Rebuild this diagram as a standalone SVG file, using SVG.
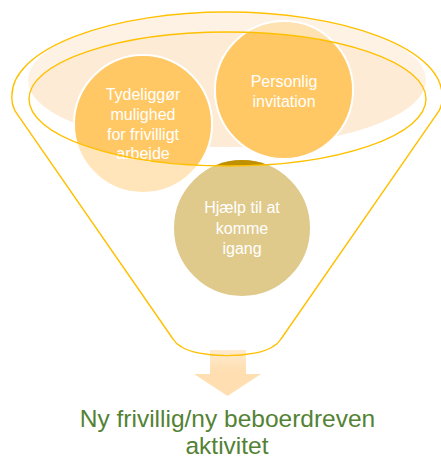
<svg xmlns="http://www.w3.org/2000/svg" width="441" height="459" viewBox="0 0 441 459">
<defs>
<style>
.line{fill:none;stroke:#FFC000;stroke-width:1.4}
.ct{font-family:"Liberation Sans",Arial,sans-serif;font-size:16px;fill:#FFFFFF;text-anchor:middle}
.gt{font-family:"Liberation Sans",Arial,sans-serif;font-size:24.5px;fill:#548235;text-anchor:middle}
.ring{stroke:#FFFFFF;stroke-width:2}
</style>
<clipPath id="innerClip"><ellipse cx="227.5" cy="99" rx="198.5" ry="67"/></clipPath>
<linearGradient id="arrowGrad" x1="0" y1="350" x2="0" y2="370" gradientUnits="userSpaceOnUse">
<stop offset="0" stop-color="#FFEBD0"/>
<stop offset="1" stop-color="#FFDFB2"/>
</linearGradient>
</defs>
<rect width="441" height="459" fill="#FFFFFF"/>
<g id="funnel-fill">
<ellipse cx="227" cy="80" rx="199" ry="67" fill="#FEF2E5"/>
<ellipse cx="227" cy="80" rx="199" ry="67" fill="#FDEBD5" clip-path="url(#innerClip)"/>
</g>
<g id="node-tydeliggor">
<circle cx="143" cy="124" r="69" fill="#FFE5B9" class="ring"/>
<circle cx="143" cy="124" r="68" fill="#FFC864" clip-path="url(#innerClip)"/>
<text class="ct" x="143" y="100">Tydeliggør</text>
<text class="ct" x="143" y="120">mulighed</text>
<text class="ct" x="143" y="140">for frivilligt</text>
<text class="ct" x="143" y="159">arbejde</text>
</g>
<g id="node-personlig">
<circle cx="284" cy="90" r="69" fill="#FFE2B2" class="ring"/>
<circle cx="284" cy="90" r="68" fill="#FFC864" clip-path="url(#innerClip)"/>
<text class="ct" x="284" y="87">Personlig</text>
<text class="ct" x="284" y="107">invitation</text>
</g>
<g id="node-hjaelp">
<circle cx="242" cy="228" r="69" fill="#DFCA8C" class="ring"/>
<circle cx="242" cy="228" r="68" fill="#BF9000" clip-path="url(#innerClip)"/>
<text class="ct" x="242" y="213">Hjælp til at</text>
<text class="ct" x="242" y="234">komme</text>
<text class="ct" x="242" y="254">igang</text>
</g>
<g id="connectors">
<path d="M210,350 H246 V374 H261 L227.5,396 L194,374 H210 Z" fill="url(#arrowGrad)"/>
</g>
<g id="funnel-outline">
<ellipse class="line" cx="227.5" cy="99" rx="198.5" ry="67"/>
<path class="line" d="M15,111 Q11,103 12,95 A215 83 0 0 1 442,95 Q443,103 439,111 L281,339 Q278,344 273,346.5 A50 15 0 0 1 181,346.5 Q176,344 173,339 Z"/>
</g>
<g id="result">
<text class="gt" x="227.5" y="427">Ny frivillig/ny beboerdreven</text>
<text class="gt" x="227" y="454">aktivitet</text>
</g>
</svg>
